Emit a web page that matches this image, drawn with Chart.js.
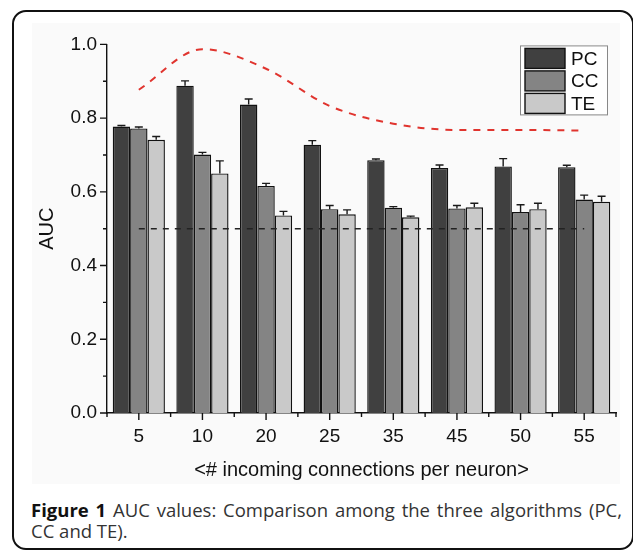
<!DOCTYPE html>
<html lang="en">
<head>
<meta charset="UTF-8">
<title>AUC values</title>
<script src="https://cdn.jsdelivr.net/npm/chart.js@4/dist/chart.umd.min.js"></script>
<style>
  body { margin: 0; background: #fff; width: 633px; height: 554px; overflow: hidden; position: relative; }
  #frame { position: absolute; left: 12px; top: 10px; width: 622px; height: 540px; border: 2px solid #111; border-radius: 14px; box-sizing: border-box; }
  #plot { position: absolute; left: 32px; top: 23px; width: 588px; height: 461px; background: #fafafa; }
  #caption { position: absolute; left: 31px; top: 499px; width: 591px; font-family: "Open Sans", sans-serif; font-size: 18.5px; line-height: 21px; color: #333; text-align: justify; }
  #caption b { color: #111; }
</style>
</head>
<body>
<div id="frame"></div>
<div id="plot"><canvas id="chart" width="588" height="461"></canvas></div>
<div id="caption"><b>Figure 1</b> AUC values: Comparison among the three algorithms (PC, CC and TE).</div>
<script>
const categories = ['5', '10', '20', '25', '35', '45', '50', '55'];
const pcValues = [0.777, 0.888, 0.837, 0.728, 0.686, 0.665, 0.669, 0.667];
const pcErrors = [0.003, 0.013, 0.015, 0.011, 0.003, 0.008, 0.021, 0.005];
const ccValues = [0.772, 0.701, 0.616, 0.553, 0.557, 0.555, 0.545, 0.579];
const ccErrors = [0.004, 0.006, 0.007, 0.010, 0.003, 0.008, 0.020, 0.012];
const teValues = [0.741, 0.650, 0.536, 0.539, 0.531, 0.558, 0.553, 0.573];
const teErrors = [0.009, 0.034, 0.011, 0.012, 0.003, 0.011, 0.016, 0.015];
const upperCurve = [0.877, 0.987, 0.934, 0.833, 0.785, 0.768, 0.768, 0.766];
const chanceLevel = [0.5, 0.5, 0.5, 0.5, 0.5, 0.5, 0.5, 0.5];

const fontFamily = 'Arial, "Liberation Sans", sans-serif';
const axisFont = { family: fontFamily, size: 19 };

// error bars, axis tick marks and the boxed legend
const decorations = {
  id: 'decorations',
  afterDatasetsDraw(chart) {
    const ctx = chart.ctx;
    const ys = chart.scales.y;
    ctx.save();
    ctx.strokeStyle = '#1a1a1a';
    ctx.lineWidth = 1.4;
    chart.data.datasets.forEach((ds, i) => {
      if (!ds.errors) return;
      chart.getDatasetMeta(i).data.forEach((bar, j) => {
        const top = ys.getPixelForValue(ds.data[j] + ds.errors[j]);
        ctx.beginPath();
        ctx.moveTo(bar.x, bar.y);
        ctx.lineTo(bar.x, top);
        ctx.moveTo(bar.x - 4, top);
        ctx.lineTo(bar.x + 4, top);
        ctx.stroke();
      });
    });
    ctx.restore();
  },
  afterDraw(chart) {
    const ctx = chart.ctx;
    const area = chart.chartArea;
    const xs = chart.scales.x, ys = chart.scales.y;
    ctx.save();
    ctx.strokeStyle = '#111';
    ctx.lineWidth = 1.4;
    ctx.beginPath();
    for (let k = 0; k <= 10; k++) {
      const y = ys.getPixelForValue(k / 10);
      const len = k % 2 === 0 ? 7 : 4;
      ctx.moveTo(area.left - len, y);
      ctx.lineTo(area.left, y);
    }
    for (let i = 0; i < categories.length; i++) {
      const x = xs.getPixelForValue(i);
      ctx.moveTo(x, area.bottom);
      ctx.lineTo(x, area.bottom + 7);
    }
    for (let i = 0; i <= categories.length; i++) {
      const x = xs.getPixelForValue(i - 0.5);
      ctx.moveTo(x, area.bottom);
      ctx.lineTo(x, area.bottom + 4);
    }
    ctx.stroke();

    // legend
    const bx = area.right - 96, by = area.top + 1, bw = 87, bh = 69;
    ctx.fillStyle = '#fff';
    ctx.fillRect(bx, by, bw, bh);
    ctx.strokeStyle = '#888';
    ctx.lineWidth = 1;
    ctx.strokeRect(bx + 0.5, by + 0.5, bw, bh);
    ctx.font = '19px ' + fontFamily;
    ctx.textBaseline = 'middle';
    chart.data.datasets.filter(d => d.errors).forEach((ds, i) => {
      const sy = by + 3 + i * 22.5;
      ctx.fillStyle = ds.backgroundColor;
      ctx.fillRect(bx + 5, sy, 40, 20);
      ctx.strokeStyle = '#111';
      ctx.lineWidth = 1.4;
      ctx.strokeRect(bx + 5, sy, 40, 20);
      ctx.fillStyle = '#111';
      ctx.fillText(ds.label, bx + 51, sy + 11);
    });
    ctx.restore();
  }
};

new Chart(document.getElementById('chart'), {
  data: {
    labels: categories,
    datasets: [
      { type: 'bar', label: 'PC', data: pcValues, errors: pcErrors, backgroundColor: '#404040', borderColor: '#111', borderWidth: 1.4, order: 2 },
      { type: 'bar', label: 'CC', data: ccValues, errors: ccErrors, backgroundColor: '#848484', borderColor: '#111', borderWidth: 1.4, order: 2 },
      { type: 'bar', label: 'TE', data: teValues, errors: teErrors, backgroundColor: '#c9c9c9', borderColor: '#111', borderWidth: 1.4, order: 2 },
      { type: 'line', label: 'upper', data: upperCurve, borderColor: '#e0342e', borderWidth: 2, borderDash: [7, 7], cubicInterpolationMode: 'monotone', pointRadius: 0, fill: false, order: 0 },
      { type: 'line', label: 'chance', data: chanceLevel, borderColor: '#222', borderWidth: 1.5, borderDash: [6, 6], pointRadius: 0, fill: false, order: 0 }
    ]
  },
  options: {
    responsive: false,
    animation: false,
    layout: { padding: { top: 15, right: 4, left: 0, bottom: 0 } },
    datasets: { bar: { categoryPercentage: 0.82, barPercentage: 1.0 } },
    plugins: { legend: { display: false }, tooltip: { enabled: false } },
    scales: {
      x: {
        type: 'category',
        offset: true,
        grid: { display: false, drawTicks: false },
        border: { display: true, color: '#111', width: 1.4 },
        ticks: { color: '#111', font: axisFont, padding: 12, maxRotation: 0 },
        title: { display: true, text: '<# incoming connections per neuron>', color: '#111', font: { family: fontFamily, size: 20, lineHeight: 1 }, padding: { top: 0, bottom: 4 } },
        afterFit(s) { s.height = 71; }
      },
      y: {
        min: 0,
        max: 1.0,
        grid: { display: false, drawTicks: false },
        border: { display: true, color: '#111', width: 1.4 },
        ticks: { stepSize: 0.2, color: '#111', font: axisFont, padding: 10, callback: v => v.toFixed(1) },
        title: { display: true, text: 'AUC', color: '#111', font: { family: fontFamily, size: 20, lineHeight: 1 }, padding: { top: 5, bottom: 0 } },
        afterFit(s) { s.width = 75; }
      }
    }
  },
  plugins: [decorations]
});
</script>
</body>
</html>
